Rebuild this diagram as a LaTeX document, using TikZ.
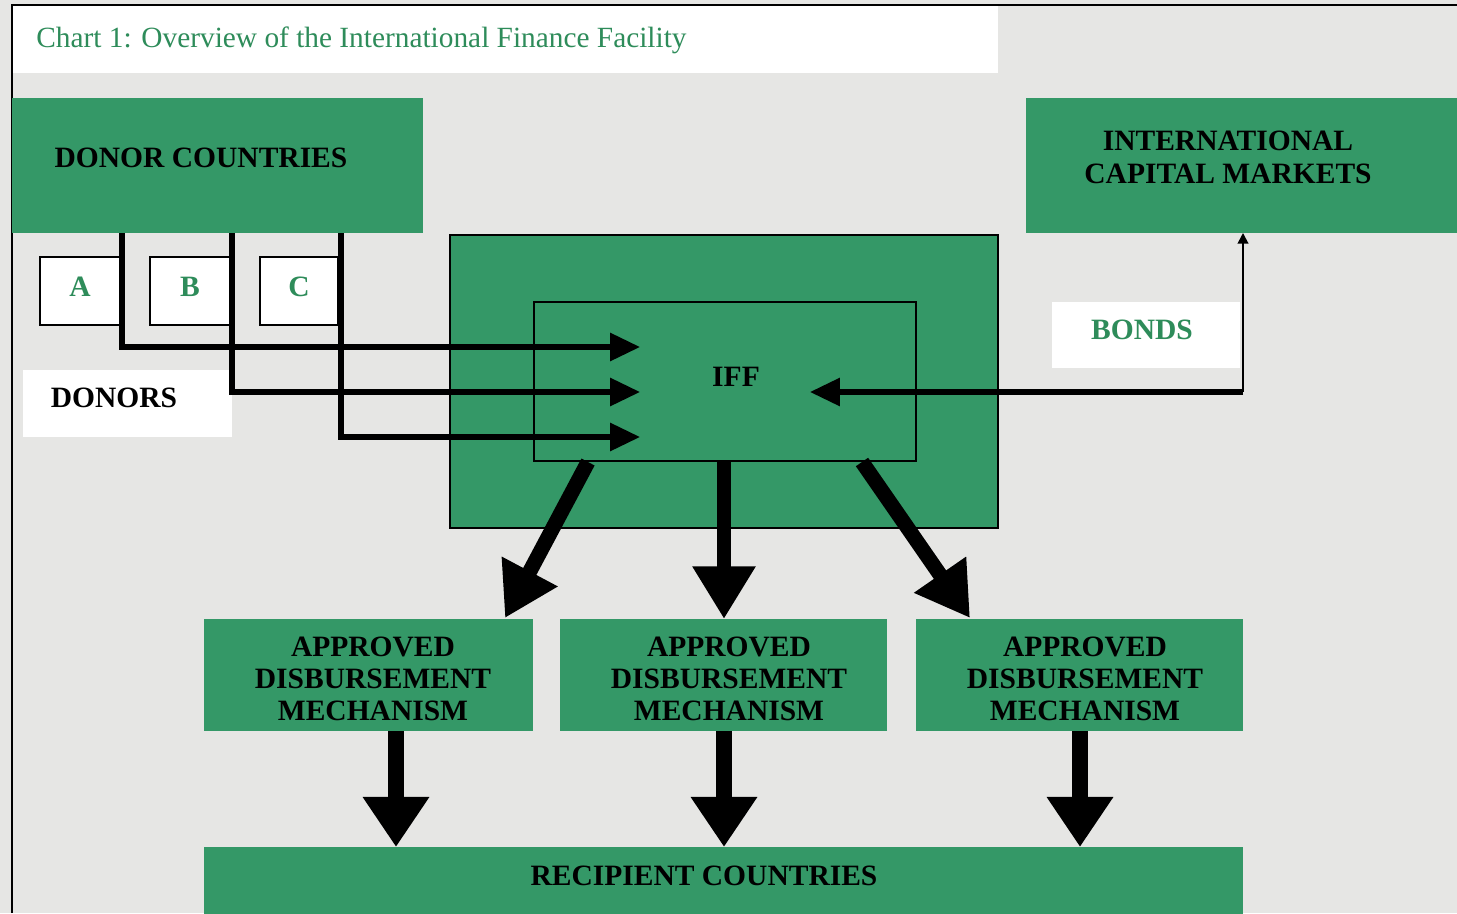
\documentclass[tikz,border=0pt]{standalone}
\usepackage{fontspec}
\setmainfont{Liberation Serif}
\usetikzlibrary{arrows.meta}
\definecolor{iffgreen}{RGB}{52,152,103}
\definecolor{txtgreen}{RGB}{46,140,90}
\definecolor{bgcol}{RGB}{230,230,228}
\begin{document}
\begin{tikzpicture}[x=0.02cm,y=-0.02cm,
  pxbox/.style 2 args={inner sep=0pt, outer sep=0pt, anchor=north west,
     minimum width=#1*0.02cm, minimum height=#2*0.02cm},
  gbox/.style={fill=iffgreen, draw=none},
  gboxb/.style={fill=iffgreen, draw=black, line width=0.9pt},
  wbox/.style={fill=white, draw=none},
  wboxb/.style={fill=white, draw=black, line width=0.9pt},
  captxt/.style={font=\fontsize{16.8}{18.5}\selectfont\bfseries, text=black, inner sep=0pt, align=center},
  gtxt/.style={font=\fontsize{16.8}{18.5}\selectfont\bfseries, text=txtgreen, inner sep=0pt},
  titletxt/.style={font=\fontsize{16.7}{19}\selectfont, text=txtgreen, inner sep=0pt},
  dline/.style={line width=2.9pt, miter limit=10, -{Triangle[length=17pt,width=15.5pt]}},
  thinline/.style={line width=1.1pt, -{Triangle[length=6pt,width=6pt]}},
  bigarrow/.style={line width=8.5pt, -{Triangle[length=30pt,width=34pt]}},
  downarrow/.style={line width=9pt, -{Triangle[length=28.5pt,width=36pt]}},
]
\useasboundingbox (0,0) rectangle (1457,913);
\fill[bgcol] (0,0) rectangle (1457,913);
\draw[line width=1.3pt] (12,913) -- (12,5) -- (1457,5);

% title
\node[pxbox={985}{67}, wbox] (titlebox) at (13,6) {};
\node[titletxt, anchor=base west] (title) at (36,47) {Chart 1: Overview of the International Finance Facility};

% donor countries
\node[pxbox={411}{135}, gbox] (donor) at (12,98) {};
\node[captxt, anchor=base] (donortxt) at (201,167) {DONOR COUNTRIES};

% international capital markets
\node[pxbox={431}{135}, gbox] (icm) at (1026,98) {};
\node[captxt, font=\fontsize{16.8}{18.8}\selectfont\bfseries] (icmtxt) at (1228,157) {INTERNATIONAL\\CAPITAL MARKETS};

% A B C
\node[pxbox={80}{68}, wboxb] (boxa) at (40,257) {};
\node[pxbox={80}{68}, wboxb] (boxb) at (150,257) {};
\node[pxbox={78}{68}, wboxb] (boxc) at (260,257) {};
\node[gtxt, anchor=base] (la) at (80,296) {A};
\node[gtxt, anchor=base] (lb) at (190,296) {B};
\node[gtxt, anchor=base] (lc) at (299,296) {C};

% donors label
\node[pxbox={209}{67}, wbox] (donorsbox) at (23,370) {};
\node[captxt, anchor=base] (donorstxt) at (114,407) {DONORS};

% IFF
\node[pxbox={548}{293}, gboxb] (iffout) at (450,235) {};
\node[pxbox={382}{159}, gboxb] (iffin) at (534,302) {};
\node[captxt, anchor=base] (ifftxt) at (736,386) {IFF};

% bonds
\node[pxbox={188}{66}, wbox] (bondsbox) at (1052,302) {};
\node[gtxt, anchor=base] (bondstxt) at (1142,339) {BONDS};

% ADM boxes
\node[pxbox={329}{112}, gbox] (adm1) at (204,619) {};
\node[pxbox={327}{112}, gbox] (adm2) at (560,619) {};
\node[pxbox={327}{112}, gbox] (adm3) at (916,619) {};
\node[captxt, font=\fontsize{16.8}{18.4}\selectfont\bfseries] (adm1txt) at (373,679) {APPROVED\\DISBURSEMENT\\MECHANISM};
\node[captxt, font=\fontsize{16.8}{18.4}\selectfont\bfseries] (adm2txt) at (729,679) {APPROVED\\DISBURSEMENT\\MECHANISM};
\node[captxt, font=\fontsize{16.8}{18.4}\selectfont\bfseries] (adm3txt) at (1085,679) {APPROVED\\DISBURSEMENT\\MECHANISM};

% recipient
\node[pxbox={1039}{70}, gbox] (recip) at (204,847) {};
\node[captxt, anchor=base] (reciptxt) at (704,885) {RECIPIENT COUNTRIES};

% donor connectors
\coordinate (da) at (122,233);
\coordinate (db) at (232,233);
\coordinate (dc) at (341,233);
\coordinate (ta) at (640,347);
\coordinate (tb) at (640,392);
\coordinate (tc) at (640,437);
\draw[dline] (da) |- (ta);
\draw[dline] (db) |- (tb);
\draw[dline] (dc) |- (tc);

% bonds connectors
\coordinate (bcorner) at (1243,392);
\coordinate (btip) at (810,392);
\draw[dline] (bcorner) -- (btip);
\draw[thinline] (bcorner) -- (icm.south -| bcorner);

% IFF to ADM
\coordinate (s1) at (588,462);
\coordinate (s2) at (724,462);
\coordinate (s3) at (862,462);
\draw[bigarrow] (s1) -- (505,618);
\draw[bigarrow] (s2) -- (adm2.north -| s2);
\draw[bigarrow] (s3) -- (970,618);

% ADM to recipients
\coordinate (r1) at (396,731);
\coordinate (r2) at (724,731);
\coordinate (r3) at (1080,731);
\draw[downarrow] (r1) -- (recip.north -| r1);
\draw[downarrow] (r2) -- (recip.north -| r2);
\draw[downarrow] (r3) -- (recip.north -| r3);
\end{tikzpicture}
\end{document}
